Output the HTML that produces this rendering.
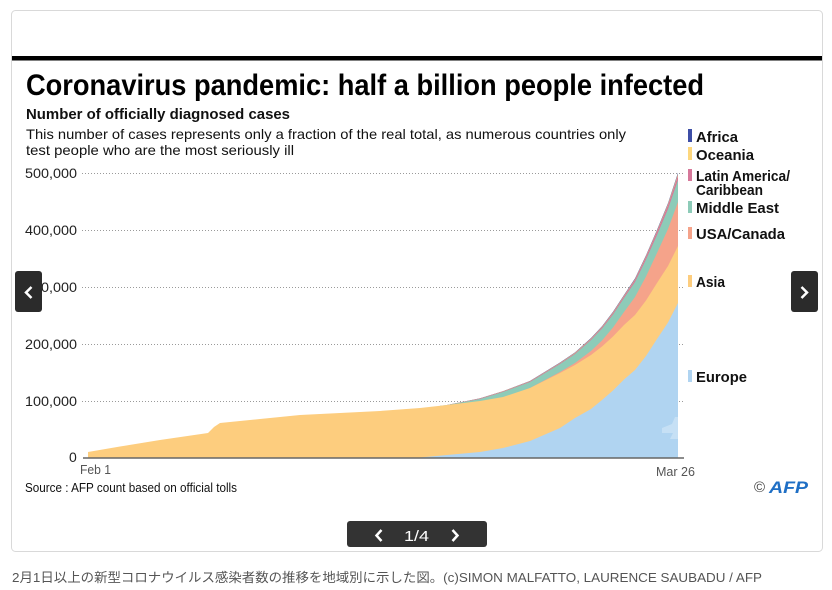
<!DOCTYPE html>
<html><head><meta charset="utf-8"><style>
html,body{margin:0;padding:0;background:#fff;width:832px;height:590px;overflow:hidden}
svg{display:block}
text{font-family:"Liberation Sans","Noto Sans CJK JP",sans-serif}
</style></head><body>
<svg width="832" height="590" viewBox="0 0 832 590" xmlns="http://www.w3.org/2000/svg">
<rect x="11.5" y="10.5" width="811" height="541" rx="4" fill="#fff" stroke="#d9d9d9"/>
<rect x="12" y="56" width="810" height="4.5" fill="#000"/>
<text x="26" y="95" font-size="30" font-weight="bold" fill="#000" textLength="678" lengthAdjust="spacingAndGlyphs">Coronavirus pandemic: half a billion people infected</text>
<text x="26" y="119" font-size="15" font-weight="bold" fill="#111" textLength="264" lengthAdjust="spacingAndGlyphs">Number of officially diagnosed cases</text>
<text x="26" y="139" font-size="14" fill="#111" textLength="600" lengthAdjust="spacingAndGlyphs">This number of cases represents only a fraction of the real total, as numerous countries only</text>
<text x="26" y="155" font-size="14" fill="#111" textLength="268" lengthAdjust="spacingAndGlyphs">test people who are the most seriously ill</text>
<g stroke="#9a9a9a" stroke-width="1" stroke-dasharray="1,2">
<line x1="82" y1="173.5" x2="684" y2="173.5"/>
<line x1="82" y1="230.5" x2="684" y2="230.5"/>
<line x1="82" y1="287.5" x2="684" y2="287.5"/>
<line x1="82" y1="344.5" x2="684" y2="344.5"/>
<line x1="82" y1="401.5" x2="684" y2="401.5"/>
</g>
<g font-size="14" fill="#222">
<text x="25" y="178" textLength="52" lengthAdjust="spacingAndGlyphs">500,000</text>
<text x="25" y="235" textLength="52" lengthAdjust="spacingAndGlyphs">400,000</text>
<text x="25" y="292" textLength="52" lengthAdjust="spacingAndGlyphs">300,000</text>
<text x="25" y="349" textLength="52" lengthAdjust="spacingAndGlyphs">200,000</text>
<text x="25" y="406" textLength="52" lengthAdjust="spacingAndGlyphs">100,000</text>
<text x="69" y="462">0</text>
</g>
<!-- stacked areas -->
<polygon fill="#3d4ea6" points="447,458 447,405 480,398.3 503,391.1 530,380.9 560,362.5 575,352.4 591,338 602,326.2 613,311.8 624,295 635,278.4 646,255.3 657,229.9 668,203.1 678,172.8 678,458"/>
<polygon fill="#fdd77e" points="447,458 447,405 480,398.4 503,391.3 530,381.1 560,362.9 575,352.8 591,338.5 602,326.8 613,312.4 624,295.6 635,279.1 646,256 657,230.7 668,204 678,174 678,458"/>
<polygon fill="#d6789a" points="447,458 447,405 480,398.5 503,391.5 530,381.4 560,363.3 575,353.2 591,339 602,327.3 613,313 624,296.2 635,279.8 646,256.7 657,231.5 668,205 678,175.5 678,458"/>
<polygon fill="#8dcbb8" points="440,458 440,405.8 447,405 480,399 503,392 530,382 560,364 575,354 591,340 602,328.5 613,314.5 624,298 635,282 646,259.5 657,235 668,209 678,180 678,458"/>
<polygon fill="#f5a38a" points="525,458 525,389.7 530,388 560,372 575,363 591,351 602,340.5 613,327.5 624,312 635,297 646,276.5 657,253 668,229 678,202 678,458"/>
<polygon fill="#fdcd7e" points="88,458 88,452 120,446.5 160,440 208,433 214,427 220,423 260,419 300,415 340,413 380,411 420,408 447,405 480,401 503,397 530,388 560,373 575,365 591,355 602,346.5 613,336.5 624,325 635,315 646,300.5 657,283 668,266 678,246 678,458"/>
<polygon fill="#b0d4f1" points="88,458 420,457.5 447,455 480,452 503,448 530,441 560,428 575,418 591,409 602,400 613,390.5 624,379.5 635,370 646,356 657,339 668,322.5 678,303 678,458"/>
<path d="M662 428 l10 -4 l3 -7 l3 0 l0 22 l-8 0 l3 -6 l-11 0 z" fill="#c6e0f5"/>
<line x1="83" y1="458" x2="684" y2="458" stroke="#666" stroke-width="1.5"/>
<text x="80" y="474" font-size="13" fill="#555" textLength="31" lengthAdjust="spacingAndGlyphs">Feb 1</text>
<text x="656" y="476" font-size="13" fill="#555" textLength="39" lengthAdjust="spacingAndGlyphs">Mar 26</text>
<text x="25" y="492" font-size="12.5" fill="#111" textLength="212" lengthAdjust="spacingAndGlyphs">Source : AFP count based on official tolls</text>
<!-- legend -->
<rect x="688" y="129" width="4" height="13" fill="#3d4ea6"/>
<rect x="688" y="147" width="4" height="13" fill="#fdd77e"/>
<rect x="688" y="169" width="4" height="12" fill="#d6789a"/>
<rect x="688" y="201" width="4" height="12" fill="#8dcbb8"/>
<rect x="688" y="227" width="4" height="12" fill="#f5a38a"/>
<rect x="688" y="275" width="4" height="12" fill="#fdcd7e"/>
<rect x="688" y="370" width="4" height="12" fill="#b0d4f1"/>
<g font-size="15" font-weight="bold" fill="#111">
<text x="696" y="142" textLength="42" lengthAdjust="spacingAndGlyphs">Africa</text>
<text x="696" y="160" textLength="58" lengthAdjust="spacingAndGlyphs">Oceania</text>
<text x="696" y="181" textLength="94" lengthAdjust="spacingAndGlyphs">Latin America/</text>
<text x="696" y="195" textLength="67" lengthAdjust="spacingAndGlyphs">Caribbean</text>
<text x="696" y="213" textLength="83" lengthAdjust="spacingAndGlyphs">Middle East</text>
<text x="696" y="239" textLength="89" lengthAdjust="spacingAndGlyphs">USA/Canada</text>
<text x="696" y="287" textLength="29" lengthAdjust="spacingAndGlyphs">Asia</text>
<text x="696" y="382" textLength="51" lengthAdjust="spacingAndGlyphs">Europe</text>
</g>
<!-- AFP logo -->
<text x="754" y="492" font-size="15" fill="#444">©</text>
<text x="769" y="493" font-size="17" font-weight="bold" font-style="italic" fill="#1f6fc5" textLength="39" lengthAdjust="spacingAndGlyphs">AFP</text>
<!-- nav buttons -->
<rect x="15" y="271" width="27" height="41" rx="3" fill="#2b2b2b"/>
<polyline points="31.5,287 26,292.5 31.5,298" fill="none" stroke="#fff" stroke-width="2.5"/>
<rect x="791" y="271" width="27" height="41" rx="3" fill="#2b2b2b"/>
<polyline points="801.5,287 807,292.5 801.5,298" fill="none" stroke="#fff" stroke-width="2.5"/>
<!-- pager -->
<rect x="347" y="521" width="140" height="26" rx="3" fill="#333"/>
<polyline points="381.5,530 376.5,535.5 381.5,541" fill="none" stroke="#fff" stroke-width="2.5"/>
<polyline points="452.5,530 457.5,535.5 452.5,541" fill="none" stroke="#fff" stroke-width="2.5"/>
<text x="404" y="541" font-size="15" fill="#fff" textLength="25" lengthAdjust="spacingAndGlyphs">1/4</text>
<!-- caption -->
<text x="12" y="582" font-size="13" fill="#555" textLength="750" lengthAdjust="spacingAndGlyphs">2月1日以上の新型コロナウイルス感染者数の推移を地域別に示した図。(c)SIMON MALFATTO, LAURENCE SAUBADU / AFP</text>
</svg>
</body></html>
